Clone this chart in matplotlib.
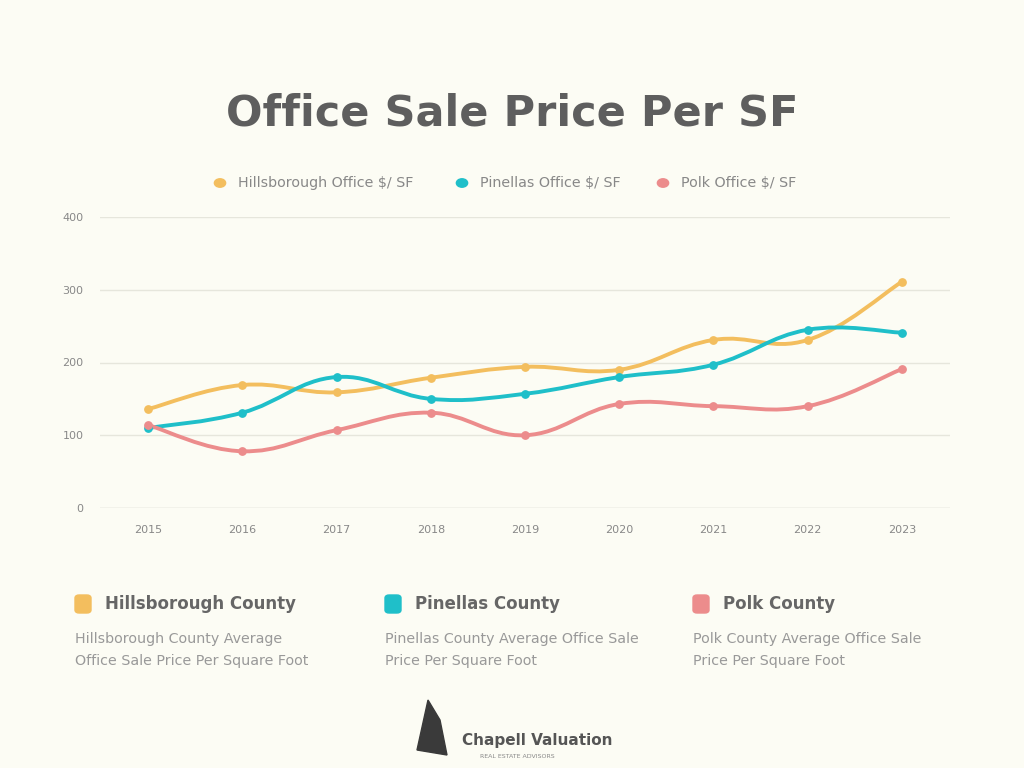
import numpy as np
import matplotlib.pyplot as plt
from matplotlib.path import Path
from matplotlib.patches import PathPatch, FancyBboxPatch, Polygon

# Data
years = [2015, 2016, 2017, 2018, 2019, 2020, 2021, 2022, 2023]
hillsborough = [136, 169, 159, 179, 194, 190, 231, 231, 311]
pinellas = [110, 131, 180, 150, 157, 180, 197, 245, 241]
polk = [114, 78, 107, 131, 100, 143, 140, 140, 191]

series_names = ['Hillsborough Office $/ SF', 'Pinellas Office $/ SF', 'Polk Office $/ SF']
card_titles = ['Hillsborough County', 'Pinellas County', 'Polk County']
card_texts = ['Hillsborough County Average\nOffice Sale Price Per Square Foot',
              'Pinellas County Average Office Sale\nPrice Per Square Foot',
              'Polk County Average Office Sale\nPrice Per Square Foot']
yticks = [0, 100, 200, 300, 400]

colors = ['#F3BE5E', '#1FBFC9', '#EC8C8C']
bg = '#FCFCF4'


def smooth_path(xs, ys, t=0.2):
    # cardinal-style bezier through the points
    xs = np.asarray(xs, float)
    ys = np.asarray(ys, float)
    verts = [(xs[0], ys[0])]
    codes = [Path.MOVETO]
    n = len(xs)
    for i in range(n - 1):
        p0 = i - 1 if i > 0 else i
        p3 = i + 2 if i + 2 < n else i + 1
        c1 = (xs[i] + (xs[i + 1] - xs[p0]) * t, ys[i] + (ys[i + 1] - ys[p0]) * t)
        c2 = (xs[i + 1] - (xs[p3] - xs[i]) * t, ys[i + 1] - (ys[p3] - ys[i]) * t)
        verts += [c1, c2, (xs[i + 1], ys[i + 1])]
        codes += [Path.CURVE4] * 3
    return Path(verts, codes)


fig = plt.figure(figsize=(10.24, 7.68), dpi=100, facecolor=bg)
ax = fig.add_axes([100 / 1024, 260 / 768, 850 / 1024, 291 / 768])
ax.set_facecolor(bg)

for vals, c in zip([hillsborough, pinellas, polk], colors):
    ax.add_patch(PathPatch(smooth_path(years, vals), fill=False, edgecolor=c, lw=2.8, zorder=3))
    ax.scatter(years, vals, s=28, color=c, zorder=4)

ax.set_xlim(2014.49, 2023.51)
ax.set_ylim(0, 400)
ax.set_yticks(yticks)
ax.set_xticks(years)
ax.tick_params(length=0, labelsize=8, colors='#888888', pad=12)
ax.grid(axis='y', color='#E6E6DC', lw=1)
for s in ax.spines.values():
    s.set_visible(False)
ax.axhline(0, color='#E0E0D6', lw=1)

fig.text(0.5, 1 - 113 / 768, 'Office Sale Price Per SF', ha='center', va='center',
         fontsize=31, fontweight='bold', color='#5E5E5E')

# top legend
leg_x = [220, 462, 663]
for x, name, c in zip(leg_x, series_names, colors):
    fig.patches.append(plt.Circle((x / 1024, 1 - 183 / 768), 0.0055, color=c,
                                  transform=fig.transFigure, figure=fig))
    fig.text((x + 18) / 1024, 1 - 183 / 768, name, ha='left', va='center',
             fontsize=10.3, color='#888888')

# bottom cards
card_x = [75, 385, 693]
for x, title, txt, c in zip(card_x, card_titles, card_texts, colors):
    fig.patches.append(FancyBboxPatch((x / 1024, 1 - 613 / 768), 16 / 1024, 18 / 768,
                                      boxstyle='round,pad=0,rounding_size=0.004',
                                      color=c, transform=fig.transFigure, figure=fig))
    fig.text((x + 30) / 1024, 1 - 604 / 768, title, ha='left', va='center',
             fontsize=12, fontweight='bold', color='#666666')
    fig.text(x / 1024, 1 - 650 / 768, txt, ha='left', va='center',
             fontsize=10.3, color='#999999', linespacing=1.7)

# logo
fig.patches.append(Polygon([(428 / 1024, 1 - 700 / 768), (417 / 1024, 1 - 750 / 768),
                            (447 / 1024, 1 - 755 / 768), (440 / 1024, 1 - 720 / 768)],
                           closed=True, color='#3A3A3A', transform=fig.transFigure, figure=fig))
fig.text(462 / 1024, 1 - 740 / 768, 'Chapell Valuation', ha='left', va='center',
         fontsize=11, fontweight='bold', color='#555555')
fig.text(480 / 1024, 1 - 756 / 768, 'REAL ESTATE ADVISORS', ha='left', va='center',
         fontsize=4.5, color='#888888')

fig.savefig('out.png', dpi=100, facecolor=bg)
